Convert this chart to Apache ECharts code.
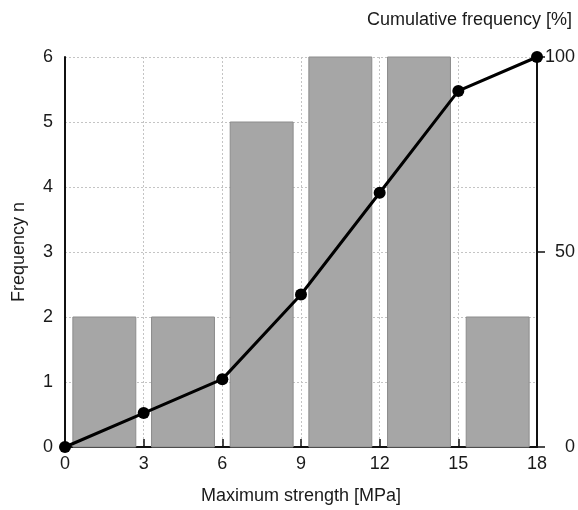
<!DOCTYPE html>
<html>
<head>
<meta charset="utf-8">
<script src="https://cdn.jsdelivr.net/npm/echarts@6/dist/echarts.min.js"></script>
<style>html,body{margin:0;padding:0;background:#fff}#c{width:578px;height:510px}</style>
</head>
<body>
<div id="c"></div>
<script>
// Data
var binStarts = [0, 3, 6, 9, 12, 15];
var frequency = [2, 2, 5, 6, 6, 2];
var cumX = [0, 3, 6, 9, 12, 15, 18];
var cumPercent = [0, 8.7, 17.4, 39.1, 65.2, 91.3, 100];
var xTicks = [0, 3, 6, 9, 12, 15, 18];

var FONT = 'Liberation Sans, Arial, sans-serif';
var TXT = '#1a1a1a';

var barData = binStarts.map(function (s, i) { return [s, s + 3, frequency[i]]; });
var lineData = cumX.map(function (x, i) { return [x, cumPercent[i]]; });

var chart = echarts.init(document.getElementById('c'));
chart.setOption({
  animation: false,
  backgroundColor: '#fff',
  title: {
    text: 'Cumulative frequency [%]',
    right: 1, top: 6,
    textStyle: { fontFamily: FONT, fontSize: 18, fontWeight: 'normal', color: TXT }
  },
  grid: { left: 65, right: 41, top: 57, bottom: 60, containLabel: false },
  xAxis: {
    type: 'value', min: 0, max: 18, interval: 3,
    name: 'Maximum strength [MPa]', nameLocation: 'middle', nameGap: 40,
    nameTextStyle: { fontFamily: FONT, fontSize: 18, color: TXT },
    axisLine: { lineStyle: { color: '#111', width: 2 } },
    axisTick: { inside: true, length: 8, lineStyle: { color: '#111', width: 1.5 } },
    axisLabel: { fontFamily: FONT, fontSize: 18, color: TXT, margin: 8 },
    splitLine: { show: true, lineStyle: { color: '#c4c4c4', type: [2, 2], width: 1 } }
  },
  yAxis: [{
    type: 'value', min: 0, max: 6, interval: 1,
    name: 'Frequency n', nameLocation: 'middle', nameGap: 37, nameRotate: 90,
    nameTextStyle: { fontFamily: FONT, fontSize: 18, color: TXT },
    axisLine: { show: true, lineStyle: { color: '#111', width: 2 } },
    axisTick: { show: false },
    axisLabel: { fontFamily: FONT, fontSize: 18, color: TXT, margin: 12 },
    splitLine: { show: true, lineStyle: { color: '#c4c4c4', type: [2, 2], width: 1 } }
  }, {
    type: 'value', min: 0, max: 100, interval: 50, position: 'right',
    axisLine: { show: true, lineStyle: { color: '#111', width: 2 } },
    axisTick: { show: true, inside: false, length: 8, lineStyle: { color: '#111', width: 1.5 } },
    axisLabel: { fontFamily: FONT, fontSize: 18, color: TXT, margin: 38, align: 'right' },
    splitLine: { show: false }
  }],
  series: [{
    type: 'custom',
    yAxisIndex: 0,
    data: barData,
    encode: { x: [0, 1], y: 2 },
    renderItem: function (params, api) {
      var s = api.value(0), e = api.value(1), v = api.value(2);
      var gap = (e - s) * 0.1;
      var p0 = api.coord([s + gap, v]);
      var p1 = api.coord([e - gap, 0]);
      return {
        type: 'rect',
        shape: { x: p0[0], y: p0[1], width: p1[0] - p0[0], height: p1[1] - p0[1] },
        style: { fill: '#a6a6a6', stroke: '#8c8c8c', lineWidth: 1 }
      };
    },
    z: 2
  }, {
    type: 'line',
    yAxisIndex: 1,
    data: lineData,
    symbol: 'circle', symbolSize: 12,
    lineStyle: { color: '#000', width: 3 },
    itemStyle: { color: '#000' },
    z: 5
  }]
});
</script>
</body>
</html>
